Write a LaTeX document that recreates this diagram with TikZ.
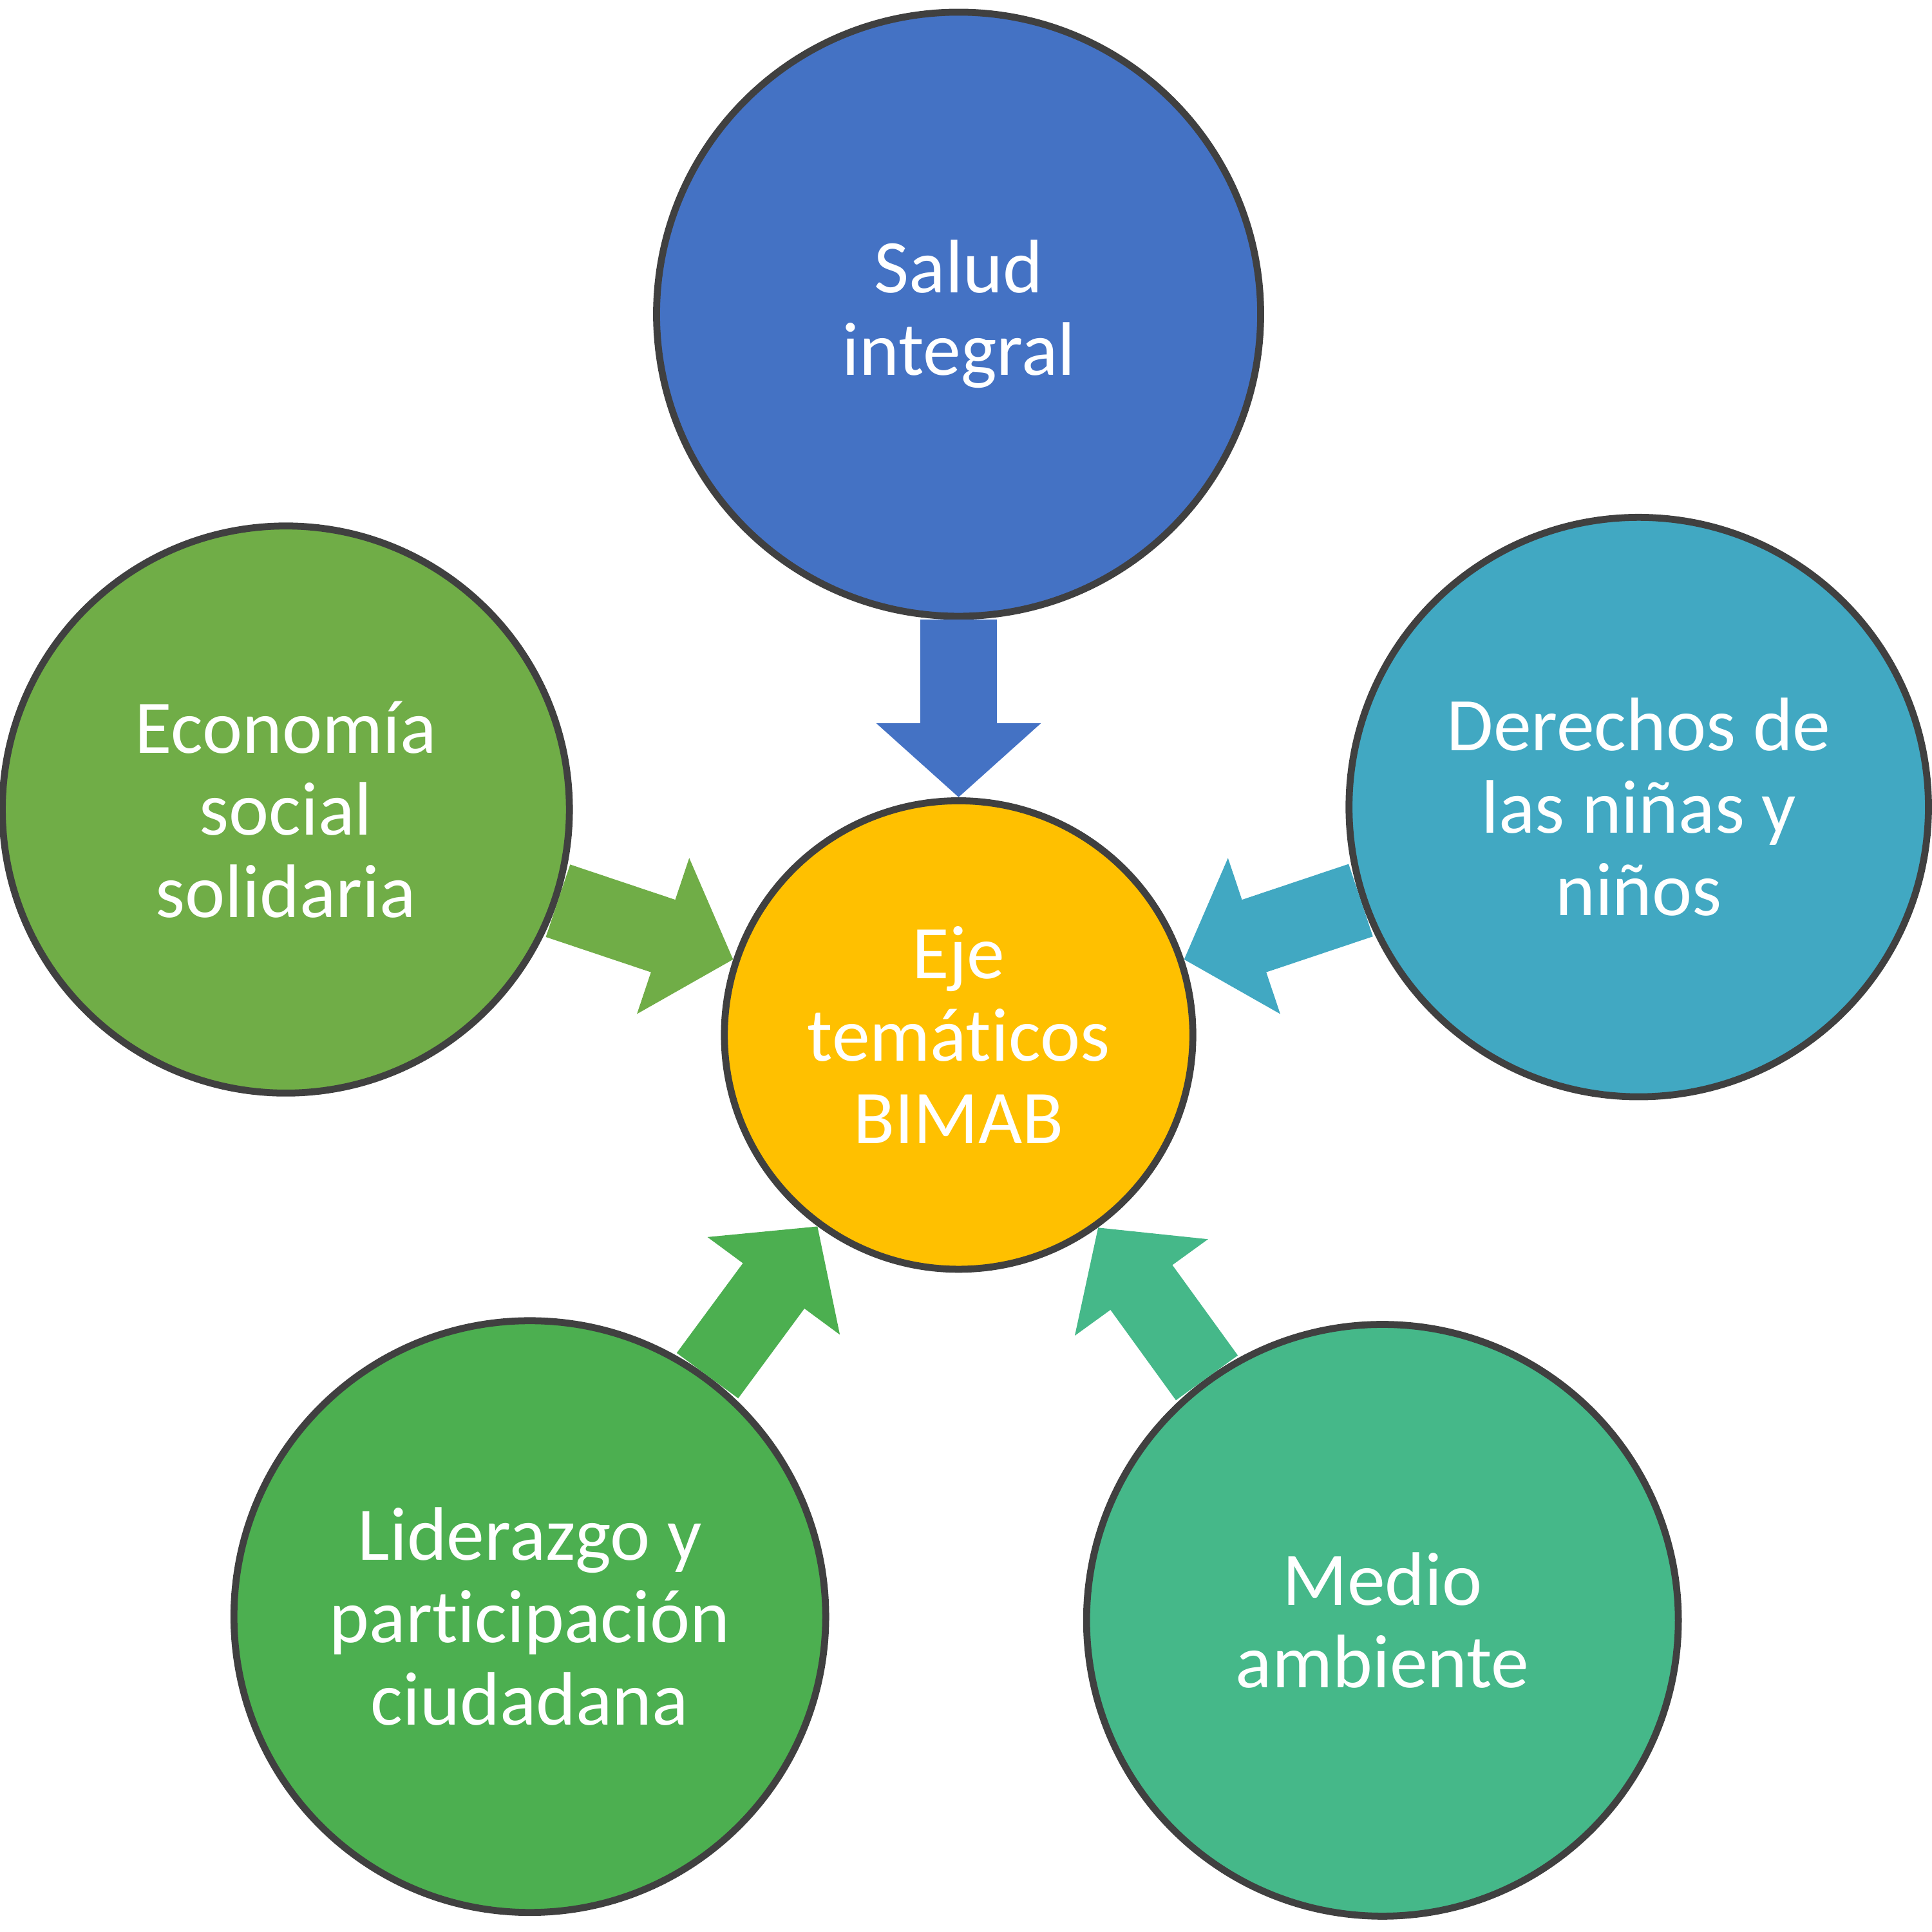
\documentclass[tikz,border=0pt]{standalone}
\usepackage{fontspec}
\setmainfont{Carlito}[Ligatures=NoCommon]
\usetikzlibrary{arrows.meta}
\definecolor{cblue}{HTML}{4472C4}
\definecolor{cteal}{HTML}{41A8C2}
\definecolor{cgreen}{HTML}{70AD47}
\definecolor{cgreen2}{HTML}{4CAF50}
\definecolor{cmint}{HTML}{45B889}
\definecolor{cyel}{HTML}{FFC000}
\tikzset{
 bubble/.style={circle,draw=black!75,line width=1.6pt,inner sep=0pt,text=white,align=center,
   font=\fontsize{17.5}{19}\selectfont},
 blockarrow/.style={line width=0.62cm,-{Triangle[width=1.3cm,length=0.6cm]}}
}
\begin{document}
\begin{tikzpicture}[x=0.01cm,y=-0.01cm]
\useasboundingbox (0,0) rectangle (1568,1568);
\node[bubble,fill=cblue,minimum size=4.9cm] (sal) at (778,255) {Salud\\integral};
\node[bubble,fill=cgreen,minimum size=4.6cm] (eco) at (232,657) {Economía\\social\\solidaria};
\node[bubble,fill=cteal,minimum size=4.7cm] (der) at (1330,655) {Derechos de\\las niñas y\\niños};
\node[bubble,fill=cgreen2,minimum size=4.8cm] (lid) at (430,1312) {Liderazgo y\\participación\\ciudadana};
\node[bubble,fill=cmint,minimum size=4.8cm] (med) at (1122,1315) {Medio\\ambiente};
\node[bubble,fill=cyel,minimum size=3.8cm] (eje) at (778,840) {Eje\\temáticos\\BIMAB};
\draw[blockarrow,cblue] (sal) -- (eje);
\draw[blockarrow,cgreen] (eco) -- (eje);
\draw[blockarrow,cteal] (der) -- (eje);
\draw[blockarrow,cgreen2] (lid) -- (eje);
\draw[blockarrow,cmint] (med) -- (eje);
\end{tikzpicture}
\end{document}
